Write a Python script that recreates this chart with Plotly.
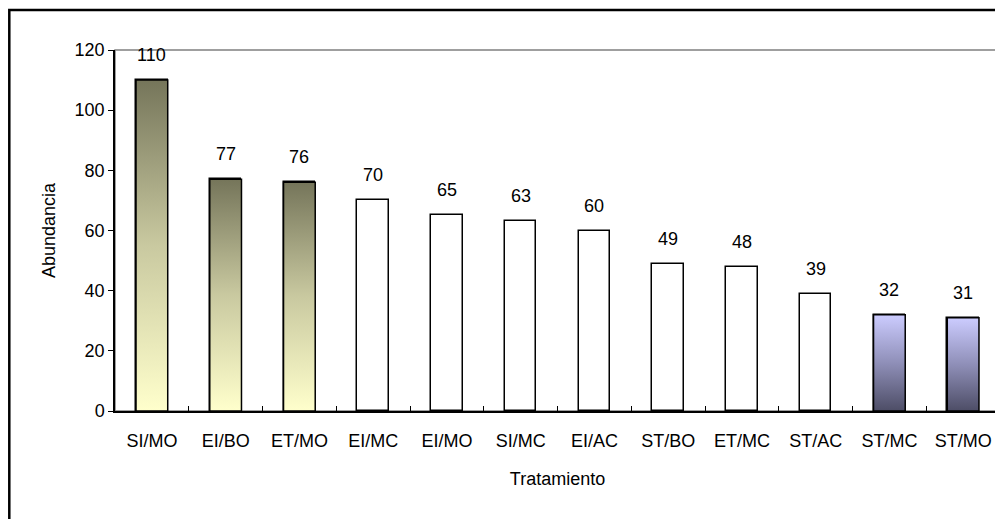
import plotly.graph_objects as go

categories = ["SI/MO", "EI/BO", "ET/MO", "EI/MC", "EI/MO", "SI/MC", "EI/AC",
              "ST/BO", "ET/MC", "ST/AC", "ST/MC", "ST/MO"]
values = [110, 77, 76, 70, 65, 63, 60, 49, 48, 39, 32, 31]
# fill style per bar: "olive" gradient, "white", or "blue" gradient
styles = ["olive", "olive", "olive", "white", "white", "white", "white",
          "white", "white", "white", "blue", "blue"]

gradients = {
    "olive": [[0, "#ffffcc"], [0.5, "#c9c9a0"], [1, "#75755a"]],
    "blue": [[0, "#4d4d66"], [0.5, "#8f8fb8"], [1, "#ccccff"]],
}

BAR_W = 0.43
FONT = "Liberation Sans, Arial, sans-serif"
FS = 18

fig = go.Figure()

fig.add_trace(go.Bar(
    x=categories, y=values, width=BAR_W,
    marker=dict(color="white", line=dict(color="black", width=1.5)),
    hoverinfo="x+y", showlegend=False,
))

for i, (v, s) in enumerate(zip(values, styles)):
    if s not in gradients:
        continue
    x0, x1 = i - BAR_W / 2, i + BAR_W / 2
    fig.add_trace(go.Scatter(
        x=[x0, x1, x1, x0, x0], y=[0, 0, v, v, 0],
        xaxis="x2", mode="lines", fill="toself",
        fillgradient=dict(type="vertical", colorscale=gradients[s]),
        line=dict(color="black", width=1.5),
        hoverinfo="skip", showlegend=False,
    ))

for c, v in zip(categories, values):
    fig.add_annotation(x=c, y=v, text=str(v), showarrow=False,
                       yanchor="bottom", yshift=13,
                       font=dict(family=FONT, size=FS, color="black"))

# page body has an 8px margin, so figure coords = view coords - 8
OFF = 8
W, H = 1003, 519
L, T = 115 - OFF, 50 - OFF
R = W - (1000 - OFF)
B = H - (411 - OFF)
pw, ph = W - L - R, H - T - B

def px_to_paper_x(px):
    return (px - OFF - L) / pw

def px_to_paper_y(py):
    return (H - B - (py - OFF)) / ph

fig.add_shape(type="rect", xref="paper", yref="paper",
              x0=px_to_paper_x(9.3), x1=px_to_paper_x(1030),
              y0=px_to_paper_y(540), y1=px_to_paper_y(10),
              line=dict(color="black", width=2.5), fillcolor="rgba(0,0,0,0)",
              layer="below")
fig.add_shape(type="rect", xref="paper", yref="paper", x0=0, x1=1, y0=0, y1=1,
              line=dict(color="#808080", width=1.5), fillcolor="rgba(0,0,0,0)",
              layer="below")

fig.update_layout(
    width=W, height=H,
    margin=dict(l=L, r=R, t=T, b=B),
    plot_bgcolor="white", paper_bgcolor="white",
    font=dict(family=FONT, size=FS, color="black"),
    xaxis=dict(
        type="category", categoryorder="array", categoryarray=categories,
        range=[-0.5, len(categories) - 0.5],
        showline=True, linecolor="black", linewidth=1.5,
        ticks="inside", tickson="boundaries", ticklen=5, tickcolor="black",
        ticklabelstandoff=13,
        showgrid=False, zeroline=False,
        tickfont=dict(size=FS),
        title=dict(text="Tratamiento", font=dict(size=FS), standoff=22),
    ),
    xaxis2=dict(
        overlaying="x", range=[-0.5, len(categories) - 0.5],
        visible=False, showgrid=False, zeroline=False,
    ),
    yaxis=dict(
        range=[0, 120], dtick=20, tickmode="linear",
        showline=True, linecolor="black", linewidth=1.5,
        ticks="outside", ticklen=5, tickcolor="black",
        showgrid=False, zeroline=False,
        tickfont=dict(size=FS),
        title=dict(text="Abundancia", font=dict(size=FS), standoff=14),
    ),
    bargap=0,
)

fig.write_html("out.html")
